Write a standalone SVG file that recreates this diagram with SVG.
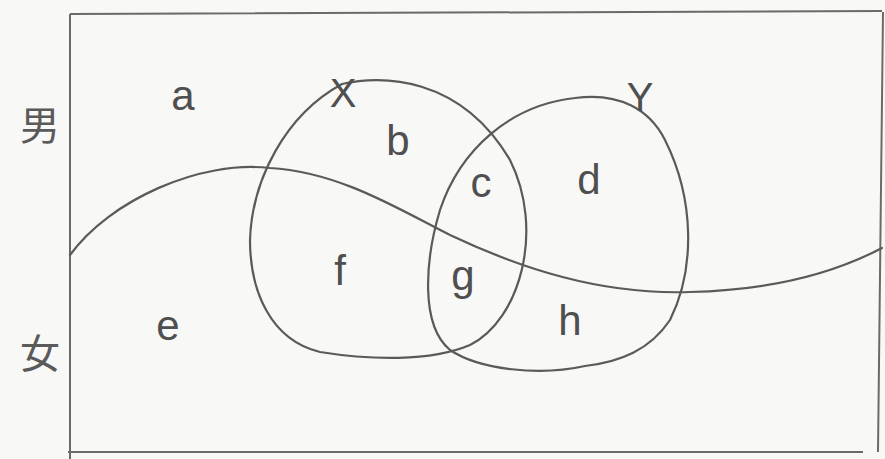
<svg xmlns="http://www.w3.org/2000/svg" width="885" height="459" viewBox="0 0 885 459">
<style>
.ln{fill:none;stroke:#5a5a5a;stroke-width:2.2;stroke-linecap:round;stroke-linejoin:round}
.fr{fill:none;stroke:#6a6a6a;stroke-width:2}
.t{font-family:"Liberation Sans",Arial,sans-serif;font-size:42px;fill:#4f4f4f;text-anchor:middle}
.s{font-family:"Liberation Sans",Arial,sans-serif;font-size:40px;fill:#4f4f4f;text-anchor:middle}
.k{font-family:"Noto Sans CJK JP","Noto Sans CJK SC",sans-serif;font-size:40px;fill:#5a5a5a;text-anchor:middle}
</style>
<rect width="885" height="459" fill="#f8f8f6"/>
<g id="frame">
<path class="fr" d="M70,14 L882,11 M70,14 L70,459 M68,452 L863,452 M883,12 L878,452"/>
</g>
<g id="connectors">
<path id="wave" class="ln" d="M70,255 C110,200 200,160 270,168 C340,172 400,210 450,235 C520,268 600,295 690,292 C780,290 840,270 882,248"/>
</g>
<g id="setX">
<path class="ln" d="M342,84 C380,75 460,75 510,160 C545,230 520,320 470,345 C430,362 370,360 320,352 C270,340 250,290 250,240 C252,180 285,115 342,84 Z"/>
<text class="s" x="343" y="107">X</text>
</g>
<g id="setY">
<path class="ln" d="M585,366 C540,376 480,370 450,350 C420,325 425,260 440,210 C460,150 510,105 575,98 C620,92 650,110 665,140 C695,200 695,270 670,320 C650,350 620,362 585,366"/>
<text class="s" x="640" y="111">Y</text>
</g>
<g id="labels">
<text class="t" x="183" y="110">a</text>
<text class="t" x="398" y="155">b</text>
<text class="t" x="481" y="197">c</text>
<text class="t" x="589" y="194">d</text>
<text class="t" x="168" y="340">e</text>
<text class="t" x="340" y="285">f</text>
<text class="t" x="463" y="290">g</text>
<text class="t" x="570" y="335">h</text>
<text class="k" x="40" y="140">男</text>
<text class="k" x="40" y="368">女</text>
</g>
</svg>
